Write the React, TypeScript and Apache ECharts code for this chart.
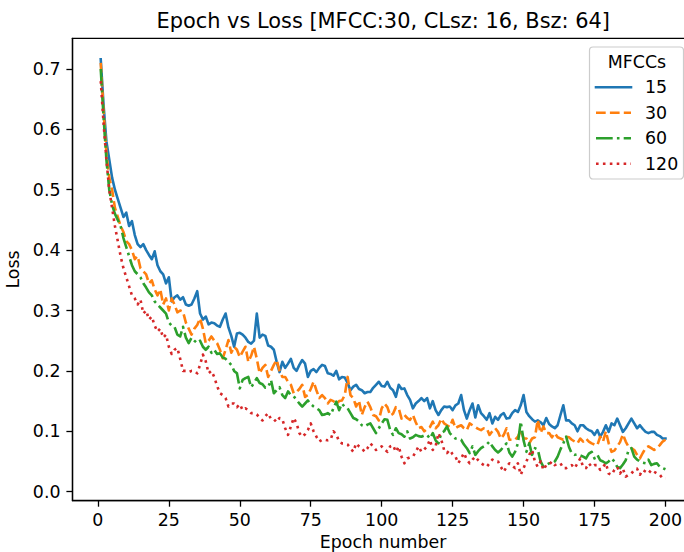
import React, { useEffect, useRef } from "react";
import * as echarts from "echarts";

const TITLE = "Epoch vs Loss [MFCC:30, CLsz: 16, Bsz: 64]";
const X_NAME = "Epoch number";
const Y_NAME = "Loss";
const LEGEND_TITLE = "MFCCs";
const SERIES_NAMES = ["15", "30", "60", "120"];
const X_TICKS = [0, 25, 50, 75, 100, 125, 150, 175, 200];
const Y_TICKS = [0, 0.1, 0.2, 0.3, 0.4, 0.5, 0.6, 0.7];

const LOSS_15 = [
  0.716, 0.64, 0.58, 0.55, 0.52, 0.5, 0.485, 0.47, 0.455, 0.462,
  0.44, 0.448, 0.425, 0.41, 0.405, 0.41, 0.4, 0.392, 0.385, 0.398,
  0.375, 0.365, 0.36, 0.345, 0.355, 0.315, 0.322, 0.325, 0.318, 0.322,
  0.31, 0.308, 0.31, 0.32, 0.332, 0.295, 0.285, 0.29, 0.277, 0.28,
  0.279, 0.275, 0.273, 0.285, 0.295, 0.272, 0.258, 0.24, 0.262, 0.263,
  0.26, 0.255, 0.248, 0.245, 0.25, 0.295, 0.255, 0.26, 0.258, 0.242,
  0.24, 0.235, 0.215, 0.198, 0.215, 0.205, 0.212, 0.22, 0.205, 0.2,
  0.21, 0.218, 0.212, 0.19, 0.2, 0.203, 0.198, 0.205, 0.21, 0.208,
  0.196, 0.195, 0.192, 0.2, 0.186, 0.19, 0.189, 0.18, 0.168, 0.174,
  0.177, 0.17, 0.168, 0.163, 0.165, 0.165, 0.172, 0.177, 0.182, 0.175,
  0.174, 0.182, 0.172, 0.168, 0.157, 0.177, 0.17, 0.171, 0.16, 0.152,
  0.138, 0.146, 0.15, 0.155, 0.15, 0.155, 0.138, 0.15, 0.135, 0.127,
  0.135, 0.141, 0.14, 0.141, 0.135, 0.143, 0.146, 0.16, 0.135, 0.121,
  0.135, 0.146, 0.123, 0.143, 0.13, 0.125, 0.119, 0.13, 0.113, 0.124,
  0.119, 0.127, 0.13, 0.121, 0.122, 0.13, 0.135, 0.132, 0.143, 0.16,
  0.132, 0.125, 0.12, 0.116, 0.118, 0.115, 0.11, 0.122, 0.112, 0.108,
  0.105, 0.11, 0.127, 0.143, 0.118, 0.118, 0.113, 0.11, 0.1, 0.11,
  0.11, 0.105, 0.102, 0.1, 0.094, 0.102, 0.091, 0.099, 0.11, 0.099,
  0.113, 0.11, 0.121, 0.11, 0.099, 0.105, 0.113, 0.121, 0.113, 0.105,
  0.11, 0.104, 0.099, 0.097, 0.099, 0.099, 0.094, 0.092, 0.088, 0.088,
];

const LOSS_30 = [
  0.71, 0.63, 0.56, 0.52, 0.5, 0.47, 0.455, 0.44, 0.43, 0.415,
  0.41, 0.4, 0.385, 0.39, 0.37, 0.365, 0.36, 0.345, 0.35, 0.335,
  0.325, 0.335, 0.31, 0.32, 0.3, 0.32, 0.31, 0.297, 0.3, 0.298,
  0.28, 0.27, 0.26, 0.27, 0.276, 0.287, 0.27, 0.246, 0.25, 0.257,
  0.25, 0.246, 0.235, 0.221, 0.235, 0.251, 0.23, 0.24, 0.235, 0.223,
  0.232, 0.24, 0.215, 0.225, 0.24, 0.22, 0.196, 0.205, 0.21, 0.19,
  0.2, 0.21, 0.218, 0.2, 0.19, 0.19, 0.182, 0.177, 0.163, 0.165,
  0.17, 0.177, 0.157, 0.16, 0.17, 0.182, 0.168, 0.155, 0.16, 0.155,
  0.146, 0.152, 0.15, 0.145, 0.15, 0.151, 0.16, 0.19, 0.16, 0.155,
  0.141, 0.151, 0.127, 0.14, 0.149, 0.14, 0.127, 0.125, 0.118, 0.138,
  0.146, 0.14, 0.126, 0.129, 0.14, 0.138, 0.121, 0.127, 0.122, 0.119,
  0.127, 0.115, 0.105, 0.107, 0.1, 0.104, 0.107, 0.116, 0.105, 0.11,
  0.121, 0.113, 0.11, 0.107, 0.119, 0.105, 0.108, 0.11, 0.105, 0.102,
  0.113, 0.11, 0.107, 0.104, 0.102, 0.105, 0.105, 0.094, 0.1, 0.105,
  0.099, 0.088, 0.094, 0.105, 0.086, 0.086, 0.086, 0.091, 0.102, 0.088,
  0.088, 0.08, 0.088, 0.09, 0.119, 0.097, 0.108, 0.097, 0.097, 0.09,
  0.097, 0.09, 0.088, 0.086, 0.091, 0.09, 0.086, 0.083, 0.08, 0.088,
  0.083, 0.088, 0.083, 0.08, 0.078, 0.077, 0.091, 0.083, 0.1, 0.08,
  0.066, 0.068, 0.075, 0.082, 0.095, 0.083, 0.074, 0.072, 0.069, 0.061,
  0.055, 0.064, 0.072, 0.075, 0.072, 0.069, 0.072, 0.077, 0.083, 0.086,
];

const LOSS_60 = [
  0.7, 0.62, 0.55, 0.5, 0.475, 0.46, 0.45, 0.44, 0.42, 0.405,
  0.39, 0.375, 0.365, 0.36, 0.355, 0.345, 0.338, 0.33, 0.325, 0.315,
  0.31, 0.305, 0.3, 0.295, 0.28, 0.275, 0.273, 0.26, 0.257, 0.273,
  0.255, 0.246, 0.255, 0.25, 0.246, 0.25, 0.24, 0.235, 0.24, 0.23,
  0.235, 0.228, 0.229, 0.222, 0.22, 0.215, 0.21, 0.2, 0.196, 0.171,
  0.185, 0.188, 0.19, 0.173, 0.18, 0.188, 0.18, 0.178, 0.172, 0.173,
  0.185, 0.163, 0.168, 0.173, 0.16, 0.155, 0.166, 0.16, 0.158, 0.152,
  0.146, 0.141, 0.146, 0.151, 0.145, 0.141, 0.138, 0.135, 0.127, 0.128,
  0.13, 0.127, 0.138, 0.149, 0.135, 0.146, 0.14, 0.138, 0.13, 0.122,
  0.12, 0.116, 0.11, 0.108, 0.111, 0.113, 0.105, 0.097, 0.105, 0.113,
  0.12, 0.119, 0.102, 0.094, 0.105, 0.097, 0.095, 0.091, 0.1, 0.088,
  0.09, 0.094, 0.092, 0.091, 0.093, 0.094, 0.088, 0.097, 0.085, 0.08,
  0.097, 0.1, 0.108, 0.097, 0.092, 0.088, 0.087, 0.086, 0.078, 0.072,
  0.064, 0.075, 0.061, 0.067, 0.072, 0.075, 0.078, 0.083, 0.075, 0.069,
  0.065, 0.069, 0.075, 0.08, 0.065, 0.058, 0.066, 0.08, 0.116, 0.085,
  0.066, 0.08, 0.061, 0.072, 0.07, 0.05, 0.041, 0.044, 0.047, 0.047,
  0.05, 0.058, 0.07, 0.08, 0.091, 0.074, 0.063, 0.061, 0.062, 0.06,
  0.058, 0.055, 0.063, 0.066, 0.055, 0.061, 0.052, 0.05, 0.047, 0.05,
  0.055, 0.05, 0.041, 0.039, 0.045, 0.052, 0.069, 0.072, 0.058, 0.053,
  0.05, 0.048, 0.047, 0.053, 0.044, 0.046, 0.047, 0.041, 0.039, 0.037,
];

const LOSS_120 = [
  0.68, 0.61, 0.55, 0.5, 0.47, 0.44, 0.415, 0.39, 0.37, 0.355,
  0.34, 0.325, 0.32, 0.31, 0.318, 0.295, 0.3, 0.285, 0.29, 0.275,
  0.265, 0.27, 0.255, 0.26, 0.24, 0.228, 0.235, 0.238, 0.22, 0.2,
  0.2, 0.198, 0.2, 0.2, 0.196, 0.21, 0.227, 0.216, 0.196, 0.2,
  0.19, 0.175, 0.163, 0.16, 0.155, 0.141, 0.146, 0.146, 0.14, 0.145,
  0.135, 0.138, 0.135, 0.13, 0.13, 0.128, 0.122, 0.118, 0.125, 0.13,
  0.12, 0.12, 0.115, 0.122, 0.12, 0.105, 0.094, 0.108, 0.122, 0.113,
  0.097, 0.091, 0.095, 0.102, 0.113, 0.1, 0.091, 0.083, 0.086, 0.086,
  0.085, 0.086, 0.1, 0.095, 0.083, 0.08, 0.08, 0.078, 0.072, 0.066,
  0.08, 0.075, 0.072, 0.066, 0.072, 0.08, 0.075, 0.069, 0.072, 0.075,
  0.07, 0.066, 0.075, 0.077, 0.066, 0.075, 0.058, 0.047, 0.055, 0.057,
  0.058, 0.066, 0.075, 0.066, 0.07, 0.075, 0.086, 0.069, 0.075, 0.097,
  0.086, 0.069, 0.064, 0.069, 0.062, 0.058, 0.047, 0.055, 0.064, 0.053,
  0.047, 0.053, 0.058, 0.052, 0.047, 0.044, 0.041, 0.047, 0.053, 0.05,
  0.05, 0.041, 0.033, 0.041, 0.047, 0.043, 0.039, 0.047, 0.028, 0.039,
  0.05, 0.061, 0.069, 0.05, 0.041, 0.05, 0.036, 0.044, 0.045, 0.05,
  0.044, 0.046, 0.047, 0.039, 0.039, 0.042, 0.044, 0.039, 0.047, 0.055,
  0.041, 0.039, 0.047, 0.041, 0.044, 0.044, 0.036, 0.041, 0.047, 0.03,
  0.028, 0.036, 0.041, 0.03, 0.038, 0.025, 0.028, 0.03, 0.036, 0.038,
  0.028, 0.036, 0.033, 0.03, 0.036, 0.033, 0.03, 0.028, 0.022, 0.022,
];

const SERIES_VALUES = [LOSS_15, LOSS_30, LOSS_60, LOSS_120];
const COLORS = ["#1f77b4", "#ff7f0e", "#2ca02c", "#d62728"];
const DASHES: (string | number[])[] = ["solid", [9.7, 4.2], [16.7, 4.2, 2.6, 4.2], [2.6, 4.3]];
const CAPS = ["square", "butt", "butt", "butt"];

const FONT = "DejaVu Sans";

export default function App() {
  const ref = useRef<HTMLDivElement>(null);

  useEffect(() => {
    if (!ref.current) return;
    const chart = echarts.init(ref.current, undefined, { renderer: "svg" });

    const series = SERIES_NAMES.map((name, i) => ({
      name,
      type: "line",
      data: SERIES_VALUES[i].map((v, j) => [j + 1, v]),
      showSymbol: false,
      symbol: "none",
      clip: true,
      z: 2 + i,
      lineStyle: {
        color: COLORS[i],
        width: 2.6,
        type: DASHES[i],
        cap: CAPS[i],
        join: "round",
      },
    }));

    const legendRowY = (i: number) => 87.3 + i * 25.5;
    const legendChildren: any[] = [
      {
        type: "rect",
        shape: { x: 589.5, y: 47, width: 94, height: 132, r: 3.5 },
        style: { fill: "rgba(255,255,255,0.8)", stroke: "#cccccc", lineWidth: 1.2 },
        z: 100,
      },
      {
        type: "text",
        x: 637,
        y: 62,
        style: {
          text: LEGEND_TITLE,
          fontSize: 17.4,
          fontFamily: FONT,
          fill: "#000",
          align: "center",
          verticalAlign: "middle",
        },
        z: 101,
      },
    ];
    SERIES_NAMES.forEach((name, i) => {
      const y = legendRowY(i);
      legendChildren.push({
        type: "line",
        shape: { x1: 596, y1: y, x2: 631, y2: y },
        style: {
          stroke: COLORS[i],
          lineWidth: 2.6,
          lineDash: typeof DASHES[i] === "string" ? null : DASHES[i],
          lineCap: CAPS[i],
        },
        z: 101,
      });
      legendChildren.push({
        type: "text",
        x: 645,
        y,
        style: {
          text: name,
          fontSize: 17.4,
          fontFamily: FONT,
          fill: "#000",
          align: "left",
          verticalAlign: "middle",
        },
        z: 101,
      });
    });

    chart.setOption({
      animation: false,
      backgroundColor: "#ffffff",
      textStyle: { fontFamily: FONT },
      title: {
        text: TITLE,
        left: 383.2,
        top: 10,
        padding: 0,
        textAlign: "center",
        textStyle: {
          fontFamily: FONT,
          fontSize: 20.9,
          fontWeight: "normal",
          color: "#000",
          lineHeight: 21,
        },
      },
      grid: {
        left: 72.5,
        right: -9.7,
        top: 38.3,
        bottom: 51.4,
        containLabel: false,
        outerBoundsMode: "none",
        show: true,
        borderColor: "#000",
        borderWidth: 1.3,
        backgroundColor: "transparent",
      },
      xAxis: {
        type: "value",
        min: -8.95,
        max: 209.95,
        name: X_NAME,
        nameLocation: "middle",
        nameGap: 32,
        nameTextStyle: { fontFamily: FONT, fontSize: 17.4, color: "#000" },
        axisLine: { show: true, onZero: false, lineStyle: { color: "#000", width: 1.3 } },
        axisTick: {
          show: true,
          length: 6.1,
          customValues: X_TICKS,
          lineStyle: { color: "#000", width: 1.3 },
        },
        axisLabel: {
          customValues: X_TICKS,
          margin: 11,
          fontFamily: FONT,
          fontSize: 17.4,
          color: "#000",
          formatter: (v: number) => String(Math.round(v)),
        },
        splitLine: { show: false },
      },
      yAxis: {
        type: "value",
        min: -0.0148,
        max: 0.7508,
        name: Y_NAME,
        nameLocation: "middle",
        nameRotate: 90,
        nameGap: 42,
        nameTextStyle: { fontFamily: FONT, fontSize: 17.4, color: "#000" },
        axisLine: { show: true, onZero: false, lineStyle: { color: "#000", width: 1.3 } },
        axisTick: {
          show: true,
          length: 6.1,
          customValues: Y_TICKS,
          lineStyle: { color: "#000", width: 1.3 },
        },
        axisLabel: {
          customValues: Y_TICKS,
          margin: 12,
          fontFamily: FONT,
          fontSize: 17.4,
          color: "#000",
          formatter: (v: number) => v.toFixed(1),
        },
        splitLine: { show: false },
      },
      series,
      graphic: [{ type: "group", children: legendChildren }],
    });

    return () => chart.dispose();
  }, []);

  return <div ref={ref} style={{ width: 684, height: 552, position: "absolute", left: 0, top: 0 }} />;
}
